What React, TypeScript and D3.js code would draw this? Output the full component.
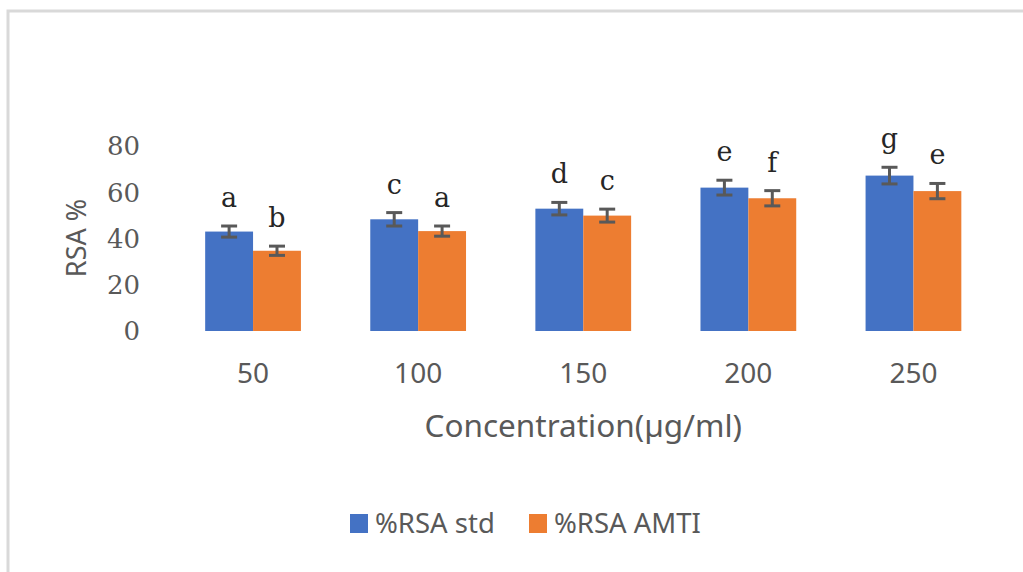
import React from "react";
import * as d3 from "d3";

const concentrations = ["50", "100", "150", "200", "250"];
const seriesNames = ["%RSA std", "%RSA AMTI"];
const stdValues = [43, 48.3, 52.9, 62, 67.2];
const amtiValues = [34.7, 43.2, 49.9, 57.4, 60.5];
const stdErrors = [2.4, 2.9, 2.7, 3.2, 3.6];
const amtiErrors = [2, 2.2, 2.8, 3.3, 3.3];
const stdLetters = ["a", "c", "d", "e", "g"];
const amtiLetters = ["b", "a", "c", "f", "e"];
const yTicks = [0, 20, 40, 60, 80];

const colors = ["#4472C4", "#ED7D31"];
const W = 1023;
const H = 572;

const App = () => {
  const x = d3.scaleBand().domain(concentrations).range([170.5, 996]).paddingInner(0.42).paddingOuter(0.21);
  const sub = d3.scaleBand().domain(seriesNames).range([0, x.bandwidth()]);
  const y = d3.scaleLinear().domain([0, 80]).range([331, 146]);

  const series = [
    { name: seriesNames[0], values: stdValues, errors: stdErrors, letters: stdLetters },
    { name: seriesNames[1], values: amtiValues, errors: amtiErrors, letters: amtiLetters },
  ];

  return (
    <svg width={W} height={H} style={{ position: "absolute", left: 0, top: 0, background: "#fff" }}>
      <rect x={8} y={11} width={W + 20} height={H + 20} fill="none" stroke="#d9d9d9" strokeWidth={3} />

      {yTicks.map((t) => (
        <text key={t} x={140} y={y(t)} dy="0.36em" textAnchor="end" fontFamily="DejaVu Serif" fontSize={26} fill="#595959">
          {t}
        </text>
      ))}

      <text transform="translate(86,238) rotate(-90)" textAnchor="middle" fontFamily="Noto Sans" fontSize={27} fill="#595959">
        RSA %
      </text>

      {series.map((s, si) => (
        <g key={s.name}>
          {concentrations.map((c, i) => {
            const bx = (x(c) as number) + (sub(s.name) as number);
            const cx = bx + sub.bandwidth() / 2;
            const v = s.values[i];
            const e = s.errors[i];
            return (
              <g key={c}>
                <rect x={bx} y={y(v)} width={sub.bandwidth()} height={y(0) - y(v)} fill={colors[si]} />
                <line x1={cx} x2={cx} y1={y(v + e)} y2={y(v - e)} stroke="#595959" strokeWidth={3} />
                <line x1={cx - 8} x2={cx + 8} y1={y(v + e)} y2={y(v + e)} stroke="#595959" strokeWidth={3} />
                <line x1={cx - 8} x2={cx + 8} y1={y(v - e)} y2={y(v - e)} stroke="#595959" strokeWidth={3} />
                <text x={cx} y={y(v + e) - 19} textAnchor="middle" fontFamily="DejaVu Serif" fontSize={27} fill="#262626">
                  {s.letters[i]}
                </text>
              </g>
            );
          })}
        </g>
      ))}

      {concentrations.map((c) => (
        <text key={c} x={(x(c) as number) + x.bandwidth() / 2} y={383} textAnchor="middle" fontFamily="Noto Sans" fontSize={28} fill="#595959">
          {c}
        </text>
      ))}

      <text x={(x.range()[0] + x.range()[1]) / 2} y={437} textAnchor="middle" fontFamily="Noto Sans" fontSize={31.5} fill="#595959">
        Concentration(µg/ml)
      </text>

      {seriesNames.map((n, i) => {
        const lx = [350, 529][i];
        return (
          <g key={n}>
            <rect x={lx} y={514} width={18} height={19} fill={colors[i]} />
            <text x={lx + 25} y={533} fontFamily="Noto Sans" fontSize={27.5} fill="#595959">
              {n}
            </text>
          </g>
        );
      })}
    </svg>
  );
};

export default App;
